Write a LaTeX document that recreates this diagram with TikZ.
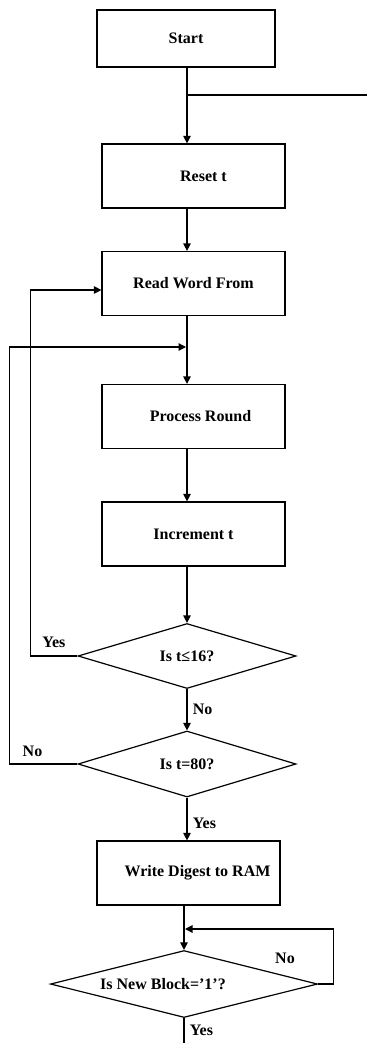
\documentclass[tikz,border=0pt]{standalone}
\usepackage{fontspec}
\setmainfont{Liberation Serif}
\usetikzlibrary{positioning, arrows.meta, shapes.geometric}

\begin{document}
\begin{tikzpicture}[x=1pt, y=-1pt, >={Triangle[width=7.5pt, length=7.5pt]},
  font=\fontsize{16}{19}\selectfont\bfseries,
  box/.style={draw, line width=1.2pt, minimum width=183pt, minimum height=64pt, inner sep=2pt},
  decision/.style={draw, diamond, line width=1.2pt, inner sep=0pt,
                   minimum width=218pt, minimum height=65pt, aspect=3.35},
  line/.style={line width=1.2pt}]
  \useasboundingbox (0,0) rectangle (367,1043);

  % Process boxes
  \node[box, minimum width=178pt, minimum height=57pt] (start) at (186,38.5) {Start};
  \node[box] (reset)     at (193.5,176)   {\hspace*{20pt}Reset t};
  \node[box] (read)      at (193.5,283.5) {Read Word From};
  \node[box] (process)   at (193.5,416.5) {\hspace*{14pt}Process Round};
  \node[box] (increment) at (193.5,534)   {Increment t};
  \node[box] (write)     at (188.5,873)   {\hspace*{18pt}Write Digest to RAM\\[-6pt]~};

  % Decisions
  \node[decision] (d1) at (187,656) {Is t≤16?};
  \node[decision, minimum height=66pt] (d2) at (187,764) {Is t=80?};
  \node[decision, minimum width=267pt, minimum height=67pt, aspect=4]
    (d3) at (184,984) {Is New Block=’1’?\hspace*{42pt}};

  % Helper points
  \coordinate (tap)    at (187,95);
  \coordinate (exit)   at (367,95);
  \coordinate (merge)  at (186,347);
  \coordinate (join)   at (185,929);
  \coordinate (finish) at (184,1043);

  % Main flow
  \draw[line, ->] (start.south -| tap) -- (reset.north -| tap);
  \draw[line] (tap) -- (exit);
  \draw[line, ->] (reset.south -| tap) -- (read.north -| tap);
  \draw[line, ->] (read.south -| tap) -- (process.north -| tap);
  \draw[line, ->] (process.south -| tap) -- (increment.north -| tap);
  \draw[line, ->] (increment.south -| tap) -- (d1.north);
  \draw[line, ->] (d1.south) -- node[right, xshift=2pt]{No} (d2.north);
  \draw[line, ->] (d2.south) -- node[right, pos=0.6, xshift=2pt]{Yes} (write.north -| d2.south);
  \draw[line, ->] (write.south -| d3.north) -- (d3.north);
  \draw[line] (d3.south) -- node[right, xshift=2pt]{Yes} (finish);

  % Loops back
  \draw[line, ->] (d1.west) -- node[above, yshift=4pt]{Yes} ++(-47,0)
    |- ([yshift=-6.5pt]read.west);
  \draw[line, ->] (d2.west) -- node[above, pos=0.66, yshift=3pt]{No} ++(-68,0)
    |- (merge);
  \draw[line, ->] (d3.east) -- ++(15,0) |- (join);
  \node (no3) at (285,958) {No};
\end{tikzpicture}
\end{document}
